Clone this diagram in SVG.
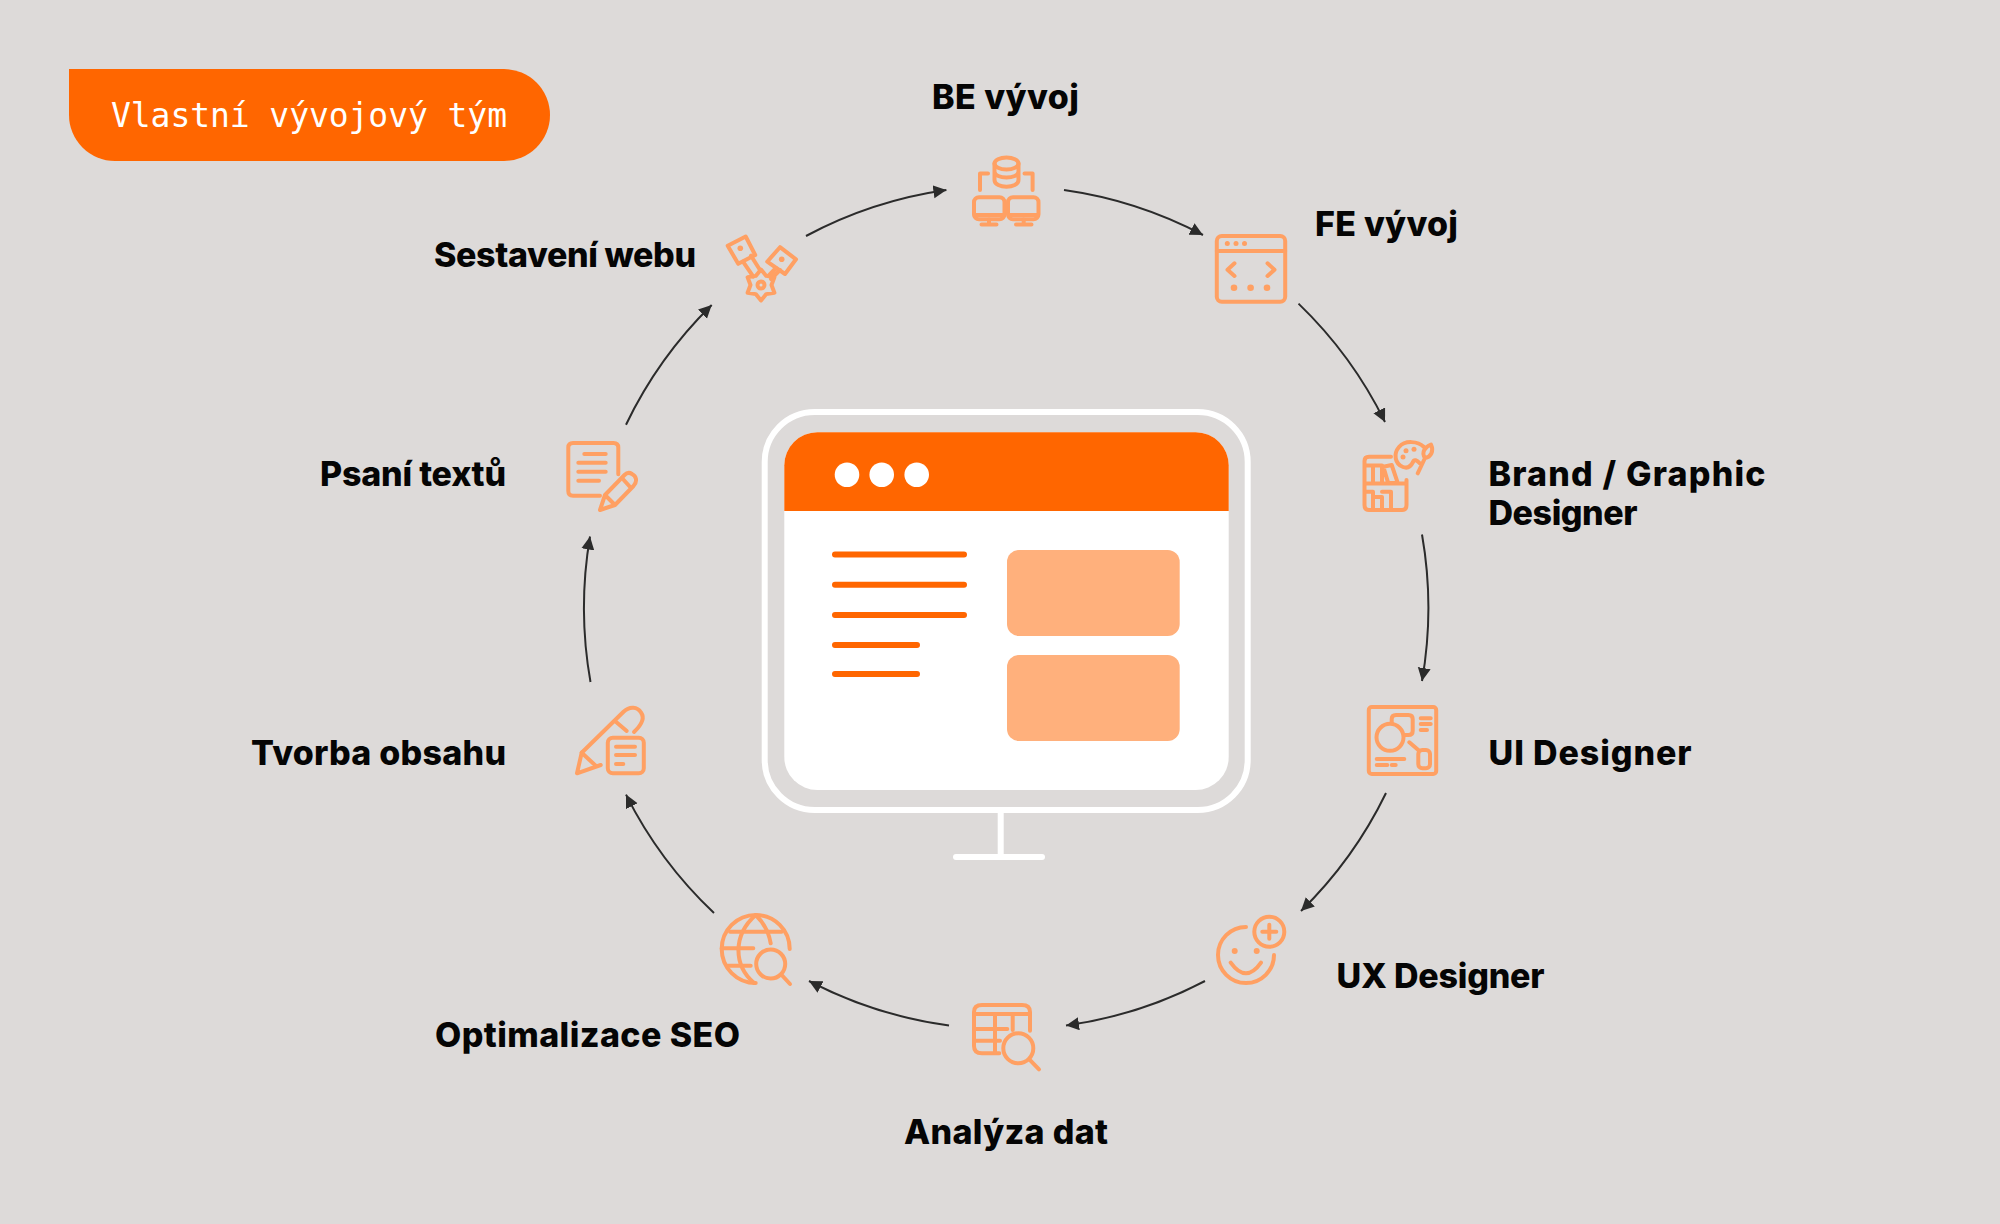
<svg xmlns="http://www.w3.org/2000/svg" width="2000" height="1224" viewBox="0 0 2000 1224">
<defs>
<marker id="arrow" markerUnits="userSpaceOnUse" markerWidth="14" markerHeight="14" refX="13" refY="6.5" orient="auto"><path d="M0,0 L13,6.5 L0,13 Z" fill="#2b2b2b"/></marker>
</defs>
<style>
.ic{fill:none;stroke:#ffa063;stroke-width:4;stroke-linecap:round;stroke-linejoin:round}
.dot{fill:#ffa063}
.lb{font-family:"Inter","Liberation Sans",sans-serif;font-weight:800;font-size:34px;fill:#050505}
.cn{fill:none;stroke:#2b2b2b;stroke-width:2;marker-end:url(#arrow)}
.ln{stroke:#ff6600;stroke-width:6;stroke-linecap:round}
.cd{fill:#ffb07c}
</style>
<rect width="2000" height="1224" fill="#dddad9"/>
<g id="badge">
<path d="M69,69 H504 A46,46 0 0 1 504,161 H115 A46,46 0 0 1 69,115 Z" fill="#ff6600"/>
<text x="111" y="127" font-family="'DejaVu Sans Mono','Liberation Mono',monospace" font-size="33" textLength="396" fill="#fff">Vlastní vývojový tým</text>
</g>
<g id="connectors">
<path class="cn" d="M1064,190 A424,424 0 0 1 1203,235"/>
<path class="cn" d="M1298.5,303.6 A424,424 0 0 1 1385,422"/>
<path class="cn" d="M1422,534.5 A424,424 0 0 1 1422,681"/>
<path class="cn" d="M1386,793 A424,424 0 0 1 1301,911"/>
<path class="cn" d="M1205,981 A424,424 0 0 1 1066,1025.5"/>
<path class="cn" d="M949,1025.5 A424,424 0 0 1 809,981"/>
<path class="cn" d="M714,913 A424,424 0 0 1 626,794.6"/>
<path class="cn" d="M590.5,682 A424,424 0 0 1 590,536.5"/>
<path class="cn" d="M626,424.7 A424,424 0 0 1 711.7,305"/>
<path class="cn" d="M806,236 A424,424 0 0 1 946.4,190"/>
</g>
<g id="monitor">
<rect x="764.7" y="412" width="483" height="398" rx="50" fill="none" stroke="#fff" stroke-width="6"/>
<rect x="997.7" y="812" width="6" height="44" fill="#fff"/>
<rect x="953" y="854" width="92" height="6" rx="3" fill="#fff"/>
<rect x="784.3" y="432.3" width="444.4" height="357.7" rx="33" fill="#fff"/>
<path d="M784.3,511 V465.3 A33,33 0 0 1 817.3,432.3 H1195.7 A33,33 0 0 1 1228.7,465.3 V511 Z" fill="#ff6600"/>
<circle cx="847" cy="474.7" r="12.3" fill="#fff"/><circle cx="881.7" cy="474.7" r="12.3" fill="#fff"/><circle cx="916.7" cy="474.7" r="12.3" fill="#fff"/>
<path class="ln" d="M835,554.5 H964 M835,584.7 H964 M835,615 H964 M835,645 H917 M835,674 H917"/>
<rect class="cd" x="1007" y="550" width="172.7" height="86" rx="12"/>
<rect class="cd" x="1007" y="655" width="172.7" height="86" rx="12"/>
</g>
<g id="be">
<text class="lb" x="932" y="109" textLength="147">BE vývoj</text>
<g class="ic">
<ellipse cx="1006.5" cy="163.5" rx="12" ry="6"/>
<path d="M994.5,163.5 V180 C994.5,189 1018.5,189 1018.5,180 V163.5 M994.5,171.5 C994.5,179.5 1018.5,179.5 1018.5,171.5"/>
<path d="M980,190 V173.5 H988 M1032.6,190 V173.5 H1024.5"/>
<rect x="974" y="197.2" width="30.5" height="22" rx="5"/><rect x="1008" y="197.2" width="30.5" height="22" rx="5"/>
<path d="M974.5,215 H1004 M1008.5,215 H1038 M989,219.5 V224.5 M981.5,224.5 H996.5 M1023.7,219.5 V224.5 M1016,224.5 H1031.5"/>
</g>
</g>
<g id="fe">
<text class="lb" x="1315" y="236" textLength="143">FE vývoj</text>
<g class="ic">
<rect x="1216.8" y="236" width="68.4" height="65.7" rx="5"/>
<path d="M1216.8,251 H1285.2 M1234.5,263.3 L1227.5,269.7 L1234.5,276 M1267.5,263.3 L1274.5,269.7 L1267.5,276"/>
</g>
<circle class="dot" cx="1227.3" cy="243.5" r="2.5"/><circle class="dot" cx="1236" cy="243.5" r="2.5"/><circle class="dot" cx="1244.5" cy="243.5" r="2.5"/>
<circle class="dot" cx="1234" cy="287.7" r="3.3"/><circle class="dot" cx="1250.6" cy="287.7" r="3.3"/><circle class="dot" cx="1267" cy="287.7" r="3.3"/>
</g>
<g id="brand">
<text class="lb" x="1488.5" y="486" textLength="277">Brand / Graphic</text>
<text class="lb" x="1488.5" y="524.5" textLength="149">Designer</text>
<g class="ic">
<path d="M1391,456.7 H1369 Q1364.5,456.7 1364.5,461 V505 Q1364.5,510 1369,510 H1402 Q1406.5,510 1406.5,505 V480"/>
<path d="M1365,483.5 H1406 M1365,465.5 H1382 M1373,465.5 V482 M1382,465.5 V482 M1383.3,466.7 L1391.7,465 L1397.3,481.7 L1388.3,483.3 Z"/>
<path d="M1365,491.7 H1373 V510 M1373,497 H1382 V510 M1382,491.7 H1391 V510"/>
<path d="M1424,447 C1418,441 1405,440 1399,447 C1393,454 1395,464 1403,467 C1408,469 1411,466 1413,462 C1414,459 1417,460 1419.5,463"/>
<path d="M1417.7,473.3 L1425,458 C1421,452 1425,447 1431,444.5 C1434,451 1431,457 1425,458"/>
</g>
<circle class="dot" cx="1406" cy="450.7" r="2.5"/><circle class="dot" cx="1414" cy="449.3" r="2.5"/><circle class="dot" cx="1403" cy="457" r="2.5"/>
</g>
<g id="ui">
<text class="lb" x="1488.5" y="765" textLength="203">UI Designer</text>
<g class="ic">
<rect x="1368.8" y="707" width="67.4" height="67" rx="3"/>
<circle cx="1390" cy="737.3" r="13.5"/>
<path d="M1391.7,723 V719 Q1391.7,715 1396,715 H1408.5 Q1412.7,715 1412.7,719 V731 Q1412.7,735 1408.5,735 H1405"/>
<path d="M1420.7,718.3 H1430.7 M1420.7,724 H1430.7 M1420.7,730 H1427 M1409.3,742.3 L1418.3,750 M1376.7,759 H1404.3 M1376.7,765 H1387.3 M1391.7,765 H1395.7"/>
<rect x="1418.3" y="750" width="11.7" height="18.3" rx="4"/>
</g>
</g>
<g id="ux">
<text class="lb" x="1336.6" y="987.5" textLength="208">UX Designer</text>
<g class="ic">
<path d="M1246,927 A28,28 0 1 0 1274,955 M1230.7,962.7 Q1246,984 1261,962.7"/>
<circle cx="1269.3" cy="931.7" r="15"/>
<path d="M1262.3,931.7 H1276.3 M1269.3,924.7 V938.7"/>
</g>
<circle class="dot" cx="1234.7" cy="951" r="3"/><circle class="dot" cx="1256.7" cy="951" r="3"/>
</g>
<g id="analyza">
<text class="lb" x="904" y="1144" textLength="204">Analýza dat</text>
<g class="ic">
<path d="M1030,1030.7 V1012 Q1030,1005 1022,1005 H982 Q974,1005 974,1012 V1046 Q974,1053.3 982,1053.3 H999.3"/>
<path d="M974,1014 H1030 M974,1029 H1007.3 M974,1040.7 H1000 M995,1014 V1053 M1012.7,1014 V1030"/>
<circle cx="1018.3" cy="1048.3" r="15"/>
<path d="M1029.3,1059.3 L1039,1069.3"/>
</g>
</g>
<g id="seo">
<text class="lb" x="435" y="1047" textLength="305">Optimalizace SEO</text>
<g class="ic">
<path d="M755.7,983 A34,34 0 1 1 789.7,949"/>
<path d="M730,931.7 H781.7 M721.7,948.3 H753.3 M728,965.7 H750.7"/>
<path d="M755.7,915 C733,935 733,965 754,983 M755.7,915 C763,922 769,933 770.7,943.3"/>
<circle cx="770.7" cy="964" r="14.5"/>
<path d="M781.7,975 L790,984"/>
</g>
</g>
<g id="tvorba">
<text class="lb" x="251" y="765" textLength="255">Tvorba obsahu</text>
<g class="ic">
<path d="M581.7,752.7 L623.3,712 C630,705.5 637.5,707 641,712.5 C645,718 642.5,724 634,732 M615,721 L626.7,731"/>
<path d="M581.7,752.7 L577,773.3 L600.7,765 M581.7,752.7 L596,766"/>
<rect x="607.8" y="737.8" width="36" height="35.5" rx="5"/>
<path d="M616,746.7 H635 M616,755 H635 M616,764 H623.3"/>
</g>
</g>
<g id="psani">
<text class="lb" x="320" y="486" textLength="186">Psaní textů</text>
<g class="ic">
<path d="M618.3,474.3 V447.5 Q618.3,443 613.5,443 H573 Q568.3,443 568.3,447.5 V491 Q568.3,495.7 573,495.7 H600"/>
<path d="M584.3,454 H605.7 M578.3,462.7 H605.7 M578.3,471.7 H605.7 M578.3,480.7 H599"/>
<path d="M605,495 L600,510 L615,505 L633.5,486 C638,481 636,476 632,474 C629,472 626.5,473 624.5,475 Z M605,495 L615,505 M622,478 L631,488"/>
</g>
</g>
<g id="sestaveni">
<text class="lb" x="434" y="267" textLength="262">Sestavení webu</text>
<g class="ic">
<path d="M727.7,245.7 L745.7,236.5 L755.2,255 L738.2,263.8 Z"/>
<path d="M743,261.7 L753.3,276.7 M751,255.7 L760,270"/>
<path d="M780,247.2 L796,259.3 L785,274 L767.2,261.7 Z"/>
<path d="M776,268 L768.3,276 M780,270 L771,279"/>
<path d="M761,269.5 L766.25,275.9 L774.4,277.25 L771.5,285 L774.4,292.75 L766.25,294.1 L761,300.5 L755.75,294.1 L747.6,292.75 L750.5,285 L747.6,277.25 L755.75,275.9 Z"/>
<circle cx="761" cy="285" r="3.5"/>
</g>
<circle class="dot" cx="740.3" cy="248.3" r="2.8"/><circle class="dot" cx="781.7" cy="259.3" r="2.8"/>
</g>
</svg>
